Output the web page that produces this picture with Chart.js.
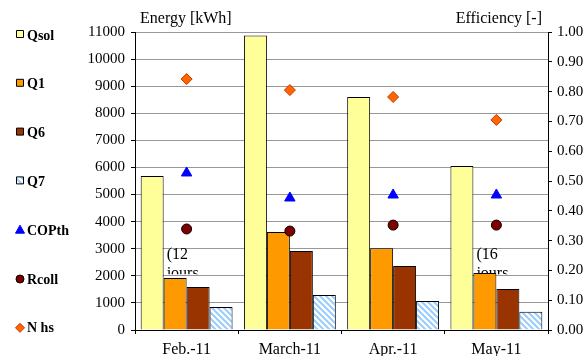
<!DOCTYPE html>
<html>
<head>
<meta charset="utf-8">
<script src="https://cdn.jsdelivr.net/npm/chart.js@4/dist/chart.umd.min.js"></script>
<style>
  html, body { margin: 0; padding: 0; background: #fff; }
  #wrap { width: 584px; height: 356px; position: relative; }
</style>
</head>
<body>
<div id="wrap"><canvas id="chart_energy"></canvas></div>
<script>
// data
var months = ['Feb.-11', 'March-11', 'Apr.-11', 'May-11'];
var qsol = [5680, 10870, 8600, 6050];
var q1 = [1920, 3620, 3020, 2100];
var q6 = [1590, 2920, 2360, 1510];
var q7 = [850, 1290, 1070, 670];
var copth = [0.527, 0.443, 0.453, 0.453];
var rcoll = [0.339, 0.332, 0.352, 0.352];
var nhs = [0.842, 0.805, 0.782, 0.705];
// note under the bars of some months ('' = none)
var notes = ['(12\njours', '', '', '(16\njours'];

var serif = "'Liberation Serif', 'Times New Roman', serif";

function hatch() {
    var c = document.createElement('canvas');
    c.width = 6; c.height = 6;
    var g = c.getContext('2d');
    g.fillStyle = '#ffffff';
    g.fillRect(0, 0, 6, 6);
    g.strokeStyle = '#99ccff';
    g.lineWidth = 2;
    g.beginPath();
    g.moveTo(-1, -1); g.lineTo(7, 7);
    g.moveTo(-4, 2); g.lineTo(4, 10);
    g.moveTo(2, -4); g.lineTo(10, 4);
    g.stroke();
    return document.getElementById('chart_energy').getContext('2d').createPattern(c, 'repeat');
}

var sideLegend = {
    id: 'sideLegend',
    afterDraw: function (chart) {
        var ctx = chart.ctx;
        ctx.save();
        ctx.font = 'bold 14px ' + serif;
        ctx.textBaseline = 'middle';
        chart.data.datasets.forEach(function (ds, i) {
            var cx = 20, cy = 35 + i * 48.8;
            ctx.fillStyle = ds.backgroundColor;
            ctx.strokeStyle = ds.borderColor;
            ctx.lineWidth = 1;
            ctx.beginPath();
            if (ds.type === 'line') {
                ctx.fillStyle = ds.pointBackgroundColor;
                ctx.strokeStyle = ds.pointBorderColor;
                if (ds.pointStyle === 'triangle') {
                    ctx.moveTo(cx, cy - 5); ctx.lineTo(cx + 4.5, cy + 3); ctx.lineTo(cx - 4.5, cy + 3);
                    ctx.closePath();
                } else if (ds.pointStyle === 'circle') {
                    ctx.arc(cx, cy, 4, 0, Math.PI * 2);
                } else {
                    ctx.moveTo(cx, cy - 4.5); ctx.lineTo(cx + 4.5, cy); ctx.lineTo(cx, cy + 4.5); ctx.lineTo(cx - 4.5, cy);
                    ctx.closePath();
                }
            } else {
                ctx.rect(cx - 3.5, cy - 4.5, 7, 7);
            }
            ctx.fill();
            ctx.stroke();
            ctx.fillStyle = '#000';
            ctx.fillText(ds.label, 27, cy + 1);
        });
        ctx.restore();
    }
};

var axisTitles = {
    id: 'axisTitles',
    afterDraw: function (chart) {
        var ctx = chart.ctx, a = chart.chartArea;
        ctx.save();
        ctx.font = '16px ' + serif;
        ctx.fillStyle = '#000';
        ctx.textBaseline = 'alphabetic';
        ctx.textAlign = 'left';
        ctx.fillText('Energy [kWh]', a.left + 5, a.top - 9);
        ctx.textAlign = 'right';
        ctx.fillText('Efficiency [-]', a.right - 6, a.top - 9);
        ctx.restore();
    }
};

var notesText = {
    id: 'notesText',
    beforeDatasetsDraw: function (chart) {
        var ctx = chart.ctx, y = chart.scales.y;
        var meta = chart.getDatasetMeta(0);
        ctx.save();
        ctx.font = '16px ' + serif;
        ctx.fillStyle = '#000';
        ctx.textBaseline = 'top';
        notes.forEach(function (n, i) {
            if (!n) return;
            var bar = meta.data[i];
            var x0 = bar.x + bar.width / 2 + 3;
            var top = y.getPixelForValue(3100), bottom = y.getPixelForValue(2060);
            ctx.save();
            ctx.beginPath();
            ctx.rect(x0 - 2, top, 60, bottom - top);
            ctx.clip();
            n.split('\n').forEach(function (line, k) {
                ctx.fillText(line, x0, top + 1 + k * 19);
            });
            ctx.restore();
        });
        ctx.restore();
    }
};

var chart_energy = new Chart(document.getElementById('chart_energy'), {
    type: 'bar',
    data: {
        labels: months,
        datasets: [
            { label: 'Qsol', data: qsol, backgroundColor: '#ffff99', borderColor: '#000000', borderWidth: 1, order: 1, yAxisID: 'y' },
            { label: 'Q1', data: q1, backgroundColor: '#ff9900', borderColor: '#000000', borderWidth: 1, order: 1, yAxisID: 'y' },
            { label: 'Q6', data: q6, backgroundColor: '#993300', borderColor: '#000000', borderWidth: 1, order: 1, yAxisID: 'y' },
            { label: 'Q7', data: q7, backgroundColor: hatch(), borderColor: '#000000', borderWidth: 1, order: 1, yAxisID: 'y' },
            {
                type: 'line', label: 'COPth', data: copth, yAxisID: 'y1', order: 0,
                showLine: false, pointStyle: 'triangle', pointRadius: 6,
                pointBackgroundColor: '#0000ff', pointBorderColor: '#0000ff', pointBorderWidth: 1,
                backgroundColor: '#0000ff', borderColor: '#0000ff'
            },
            {
                type: 'line', label: 'Rcoll', data: rcoll, yAxisID: 'y1', order: 0,
                showLine: false, pointStyle: 'circle', pointRadius: 5,
                pointBackgroundColor: '#800000', pointBorderColor: '#000000', pointBorderWidth: 1,
                backgroundColor: '#800000', borderColor: '#000000'
            },
            {
                type: 'line', label: 'N hs', data: nhs, yAxisID: 'y1', order: 0,
                showLine: false, pointStyle: 'rectRot', pointRadius: 5.5,
                pointBackgroundColor: '#ff6600', pointBorderColor: '#cc3300', pointBorderWidth: 1,
                backgroundColor: '#ff6600', borderColor: '#cc3300'
            }
        ]
    },
    options: {
        animation: false,
        responsive: true,
        maintainAspectRatio: false,
        categoryPercentage: 0.89,
        barPercentage: 1.0,
        layout: { padding: { left: 70, top: 32, right: 0, bottom: 0 } },
        plugins: {
            legend: { display: false },
            tooltip: { enabled: false }
        },
        scales: {
            x: {
                offset: true,
                afterFit: function (s) { s.height = 26; },
                grid: { offset: true, drawOnChartArea: false, tickLength: 4, tickColor: '#000000' },
                border: { color: '#000000' },
                ticks: { color: '#000000', padding: 6, font: { family: serif, size: 16 } }
            },
            y: {
                position: 'left',
                min: 0,
                max: 11000,
                afterFit: function (s) { s.width = 65; },
                grid: { color: '#999999', tickLength: 4, tickColor: '#000000' },
                border: { color: '#000000' },
                ticks: {
                    stepSize: 1000, color: '#000000', padding: 6, font: { family: serif, size: 15 },
                    callback: function (v) { return String(v); }
                }
            },
            y1: {
                position: 'right',
                min: 0,
                max: 1,
                afterFit: function (s) { s.width = 36; },
                grid: { drawOnChartArea: false, tickLength: 4, tickColor: '#000000' },
                border: { color: '#000000' },
                ticks: {
                    stepSize: 0.1, color: '#000000', padding: 5, font: { family: serif, size: 15 },
                    callback: function (v) { return v.toFixed(2); }
                }
            }
        }
    },
    plugins: [notesText, axisTitles, sideLegend, {
        id: 'customPlugin',
        beforeDraw: (chart) => {
            const ctx = chart.canvas.getContext('2d');
            ctx.save();
            ctx.globalCompositeOperation = 'destination-over';
            ctx.fillStyle = 'white';
            ctx.fillRect(0, 0, chart.canvas.width, chart.canvas.height);
            ctx.restore();
        }
    }]
});
</script>
</body>
</html>
